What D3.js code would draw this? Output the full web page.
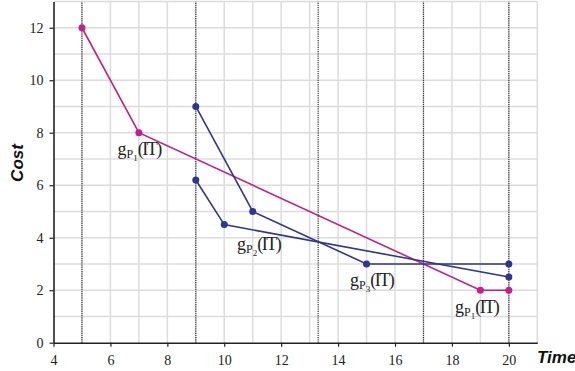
<!DOCTYPE html>
<html><head><meta charset="utf-8">
<script src="https://cdn.jsdelivr.net/npm/d3@7"></script>
<style>body{margin:0;background:#fff}svg{display:block}</style>
</head><body>
<svg id="c" width="575" height="371"></svg>
<script>
// Data
const xTicks = [4, 6, 8, 10, 12, 14, 16, 18, 20];
const yTicks = [0, 2, 4, 6, 8, 10, 12];
const dottedX = [5, 9, 13.3, 17, 20];
const seriesP1 = [[5, 12], [7, 8], [19, 2], [20, 2]];
const seriesA = [[9, 9], [11, 5], [15, 3], [20, 3]];
const seriesB = [[9, 6.2], [10, 4.5], [20, 2.5]];
const labelSubs = ["1", "2", "3", "1"];
const labelPos = [[6.25, 7.15], [10.45, 3.53], [14.42, 2.16], [18.11, 1.13]];

const svg = d3.select("#c");
const x = d3.scaleLinear().domain([4, 21]).range([53.5, 537.3]);
const y = d3.scaleLinear().domain([0, 13]).range([342.7, 1.5]);

// grid
const g = svg.append("g");
g.selectAll(".vg").data(d3.range(5, 22)).enter().append("line")
  .attr("x1", d => x(d)).attr("x2", d => x(d)).attr("y1", y(0)).attr("y2", y(13))
  .attr("stroke", "#dcdcdc").attr("stroke-width", 1.5);
g.selectAll(".hg").data(d3.range(1, 14)).enter().append("line")
  .attr("x1", x(4)).attr("x2", x(21)).attr("y1", d => y(d)).attr("y2", d => y(d))
  .attr("stroke", "#dcdcdc").attr("stroke-width", 1.5);

// dotted lines
g.selectAll(".dl").data(dottedX).enter().append("line")
  .attr("x1", d => x(d)).attr("x2", d => x(d)).attr("y1", y(0)).attr("y2", y(13))
  .attr("stroke", "#333").attr("stroke-width", 1.2).attr("stroke-dasharray", "1.2,1");

// axes
const xAxis = svg.append("g").attr("transform", `translate(0,${y(0)})`)
  .call(d3.axisBottom(x).tickValues(xTicks).tickSize(4).tickPadding(8).tickSizeOuter(0));
const yAxis = svg.append("g").attr("transform", `translate(${x(4)},0)`)
  .call(d3.axisLeft(y).tickValues(yTicks).tickSize(4).tickPadding(6).tickSizeOuter(0));
[xAxis, yAxis].forEach(a => {
  a.attr("font-family", null).attr("font-size", null);
  a.select(".domain").attr("stroke", "#222").attr("stroke-width", 1.6);
  a.selectAll(".tick line").attr("stroke", "#222").attr("stroke-width", 1.2);
  a.selectAll(".tick text").style("font-family", "'Liberation Serif', 'Times New Roman', serif")
    .style("font-size", "14px").attr("fill", "#222");
});

// lines
const line = d3.line().x(d => x(d[0])).y(d => y(d[1]));
const series = [
  {data: seriesP1, color: "#c41f8c"},
  {data: seriesA, color: "#2f3593"},
  {data: seriesB, color: "#2f3593"}
];
series.forEach(s => {
  svg.append("path").attr("d", line(s.data)).attr("fill", "none")
    .attr("stroke", s.color).attr("stroke-width", 1.6);
  svg.selectAll(null).data(s.data).enter().append("circle")
    .attr("cx", d => x(d[0])).attr("cy", d => y(d[1])).attr("r", 3.5)
    .attr("fill", s.color);
});

// labels
labelPos.forEach((p, i) => {
  const t = svg.append("text").attr("x", x(p[0])).attr("y", y(p[1]))
    .style("font-family", "'Liberation Serif', 'Times New Roman', serif").style("font-size", "18px").attr("fill", "#222");
  t.append("tspan").text("g");
  t.append("tspan").style("font-size", "12px").attr("dy", 3).text("P");
  t.append("tspan").style("font-size", "9px").attr("dy", 3).text(labelSubs[i]);
  t.append("tspan").attr("dy", -6).attr("letter-spacing", -1.5).text("(IT)");
});

// axis titles
svg.append("text").attr("transform", `translate(23,163) rotate(-90)`)
  .attr("text-anchor", "middle").style("font-family", "'Liberation Sans', Arial, sans-serif")
  .attr("font-weight", "bold").attr("font-style", "italic").style("font-size", "17px")
  .attr("fill", "#111").text("Cost");
svg.append("text").attr("x", 537).attr("y", 363)
  .style("font-family", "'Liberation Sans', Arial, sans-serif")
  .attr("font-weight", "bold").attr("font-style", "italic").style("font-size", "17px")
  .attr("fill", "#111").text("Time");
</script>
</body></html>
